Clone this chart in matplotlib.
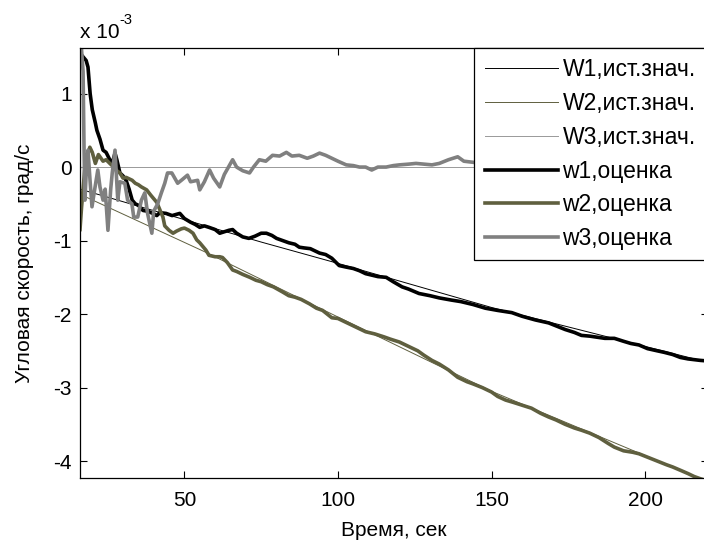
import matplotlib
matplotlib.use("Agg")
import matplotlib.pyplot as plt

plt.rcParams["font.family"] = ["Liberation Sans", "DejaVu Sans"]
plt.rcParams["axes.unicode_minus"] = False

# true values (x 1e-3 deg/s); where hidden they run under the estimates
t_W1 = [16, 75, 100, 150, 218, 221]
W1_true = [-0.30, -1.02, -1.31, -1.91, -2.63, -2.65]
t_W2 = [16, 57, 100, 150, 218, 221]
W2_true = [-0.37, -1.16, -2.04, -3.05, -4.24, -4.29]
t_W3 = [16, 221]
W3_true = [0.0, 0.0]

# w1 estimate
t_w1 = [16, 17, 18, 18.6, 19.3, 20, 21, 21.5, 22.5, 23.5, 24.5, 25.7, 26.5, 27.4, 28,
        29, 30, 31, 32, 33, 34, 35, 36.5, 38, 39.7, 41, 42, 44, 46, 48.5,
        50, 52, 53.5, 55, 56.5, 58, 60, 61.5, 63, 64.5, 65.7, 67, 69, 71, 73,
        75, 76.7, 78.5, 80, 82, 84, 86, 87.4, 89, 91, 94, 96, 98, 100.4, 102.6,
        105, 107, 109, 111, 113, 115.7, 118, 120.9, 123, 126.4, 130, 133, 137,
        140, 144, 148, 152, 156.6, 160, 164.3, 168.6, 171, 174, 177, 179.3,
        182, 186.9, 190, 193, 195.4, 198, 200.8, 204, 206.2, 209, 211.5, 214, 216, 218, 221]
w1 = [1.55, 1.50, 1.45, 1.36, 1.00, 0.78, 0.60, 0.50, 0.38, 0.23, 0.20, 0.10, 0.05, 0.19, 0.10,
      -0.08, -0.12, -0.18, -0.30, -0.45, -0.50, -0.52, -0.59, -0.60, -0.63, -0.66, -0.62, -0.63, -0.66, -0.63,
      -0.70, -0.75, -0.78, -0.82, -0.80, -0.82, -0.85, -0.90, -0.88, -0.86, -0.85, -0.90, -0.95, -0.97, -0.94,
      -0.90, -0.90, -0.93, -0.97, -1.00, -1.03, -1.05, -1.09, -1.10, -1.11, -1.17, -1.19, -1.24, -1.34, -1.36,
      -1.38, -1.41, -1.45, -1.47, -1.49, -1.50, -1.56, -1.63, -1.66, -1.72, -1.75, -1.78, -1.81,
      -1.83, -1.87, -1.92, -1.95, -1.98, -2.03, -2.08, -2.12, -2.16, -2.21, -2.25, -2.29,
      -2.30, -2.33, -2.33, -2.37, -2.40, -2.42, -2.47, -2.50, -2.52, -2.55, -2.59, -2.61, -2.62, -2.63, -2.64]

# w2 estimate
t_w2 = [16, 16.5, 17, 17.5, 18, 19.2, 20, 21, 22, 22.5, 23.5, 24.5, 25.7, 27, 28,
        29, 30, 31, 32, 33, 34, 35, 36, 37.7, 39, 40.4, 41, 42, 43, 43.6,
        45, 46.3, 47.5, 49, 50, 51.5, 52.8, 54, 55, 56, 57, 58, 60, 61.5, 62.4,
        64, 65.7, 67, 69, 71.3, 73.3, 75, 77, 79, 82, 84, 86, 88, 90.7, 93,
        95, 98, 100, 102, 104, 106, 109, 112, 115, 117, 120, 122, 124, 126, 128,
        130.6, 133, 136, 139, 142, 144, 147, 150, 152, 154.6, 157, 160, 163, 166, 168.6,
        171, 174, 177, 179.3, 182, 185, 188, 190, 193, 196, 198, 201, 204, 207, 209,
        211.8, 214, 216, 218, 221]
w2 = [-0.85, -0.55, -0.30, -0.05, 0.10, 0.27, 0.20, 0.05, 0.17, 0.14, 0.08, 0.10, 0.05, 0.00, -0.05,
      -0.08, -0.15, -0.14, -0.16, -0.18, -0.22, -0.24, -0.27, -0.31, -0.38, -0.45, -0.48, -0.58, -0.68, -0.80,
      -0.86, -0.90, -0.87, -0.84, -0.83, -0.86, -0.90, -0.99, -1.03, -1.08, -1.13, -1.20, -1.22, -1.22, -1.23,
      -1.30, -1.40, -1.42, -1.46, -1.50, -1.54, -1.56, -1.60, -1.63, -1.70, -1.75, -1.77, -1.80, -1.86, -1.92,
      -1.95, -2.05, -2.06, -2.10, -2.14, -2.18, -2.24, -2.27, -2.31, -2.34, -2.38, -2.42, -2.46, -2.50, -2.56,
      -2.63, -2.68, -2.76, -2.86, -2.92, -2.95, -3.00, -3.06, -3.12, -3.17, -3.20, -3.24, -3.28, -3.35, -3.40,
      -3.44, -3.50, -3.55, -3.58, -3.62, -3.68, -3.76, -3.81, -3.86, -3.88, -3.90, -3.95, -4.00, -4.05, -4.08,
      -4.13, -4.17, -4.21, -4.24, -4.28]

# w3 estimate
t_w3 = [16, 16.5, 17, 17.3, 17.6, 18, 18.6, 19.3, 19.9, 20.8, 21.8, 22.5, 23.5, 24.2, 25.1,
        26, 26.5, 27.4, 28.3, 29, 30.6, 31.5, 32.9, 33.5, 34.8, 36, 37.1, 38, 39.4, 40,
        41.3, 42.5, 43.6, 44.5, 45.9, 47.8, 49, 51, 52, 54.3, 55, 56.5, 58.2, 59.5, 61.5,
        63, 65.7, 67, 69, 71.2, 72.5, 74.4, 76.5, 78.7, 81, 83.2, 85, 87.4, 90, 92,
        94, 96, 98, 100, 102.7, 105, 107, 109, 111, 113, 115.7, 118, 120, 123, 125.4,
        128, 130.6, 133, 136, 139, 141, 145, 150, 160, 170, 180, 190, 200, 210, 221]
w3 = [1.60, 1.60, 1.30, 0.30, -0.45, -0.10, 0.23, -0.20, -0.54, -0.30, -0.04, -0.27, -0.45, -0.30, -0.86,
      -0.30, -0.08, 0.23, -0.45, -0.20, -0.22, -0.45, -0.50, -0.68, -0.68, -0.45, -0.35, -0.63, -0.90, -0.60,
      -0.50, -0.35, -0.22, -0.08, -0.08, -0.22, -0.18, -0.11, -0.20, -0.18, -0.31, -0.20, -0.04, -0.15, -0.27,
      -0.10, 0.10, 0.00, -0.05, -0.08, 0.00, 0.10, 0.08, 0.16, 0.15, 0.20, 0.15, 0.16, 0.12, 0.15,
      0.19, 0.16, 0.12, 0.08, 0.03, 0.02, 0.00, 0.00, -0.04, 0.00, 0.00, 0.02, 0.03, 0.04, 0.05,
      0.04, 0.03, 0.05, 0.10, 0.14, 0.08, 0.06, 0.08, 0.10, 0.08, 0.10, 0.07, 0.05, 0.08, 0.06]

OLIVE = "#5f5f3f"
GRAY = "#808080"
FS = 15

fig = plt.figure(figsize=(7.04, 5.43), dpi=100, facecolor="white")
# right spine sits just past the picture edge, as in the original crop
ax = fig.add_axes([80 / 704, 65 / 543, 628 / 704, 430 / 543])

ax.plot(t_W1, W1_true, color="black", lw=0.7, label="W1,ист.знач.")
ax.plot(t_W2, W2_true, color=OLIVE, lw=0.7, label="W2,ист.знач.")
ax.plot(t_W3, W3_true, color="#999999", lw=0.7, label="W3,ист.знач.")
ax.plot(t_w1, w1, color="black", lw=2.6, label="w1,оценка")
ax.plot(t_w2, w2, color=OLIVE, lw=2.6, label="w2,оценка")
ax.plot(t_w3, w3, color=GRAY, lw=2.6, label="w3,оценка")

ax.set_xlim(16, 220.5)
ax.set_ylim(-4.23, 1.62)
ax.set_xticks([50, 100, 150, 200])
ax.set_yticks([-4, -3, -2, -1, 0, 1])
ax.tick_params(direction="in", length=5, width=0.8, top=True, right=True,
               labelsize=FS)
ax.tick_params(axis="x", pad=9)
ax.tick_params(axis="y", pad=6)
for s in ax.spines.values():
    s.set_linewidth(0.9)

# exponent label, written as plain text like the original
fig.text(80 / 704, 1 - 38 / 543, "x 10", fontsize=FS, ha="left", va="baseline")
fig.text(119 / 704, 1 - 24 / 543, "-3", fontsize=10.5, ha="left", va="baseline")

ax.set_xlabel("Время, сек", fontsize=FS, labelpad=8)
ax.set_ylabel("Угловая скорость, град/с", fontsize=FS, labelpad=14)

# legend right border just off the picture, like the cropped original
leg = ax.legend(loc="upper right", bbox_to_anchor=(626 / 628, 1.0), borderaxespad=0,
                fontsize=16.5, frameon=True, fancybox=False, framealpha=1,
                edgecolor="black", handlelength=3.2, handletextpad=0.2,
                labelspacing=0.47, borderpad=0.45)
leg.get_frame().set_linewidth(0.9)

fig.savefig("out.png", dpi=100, facecolor="white")
